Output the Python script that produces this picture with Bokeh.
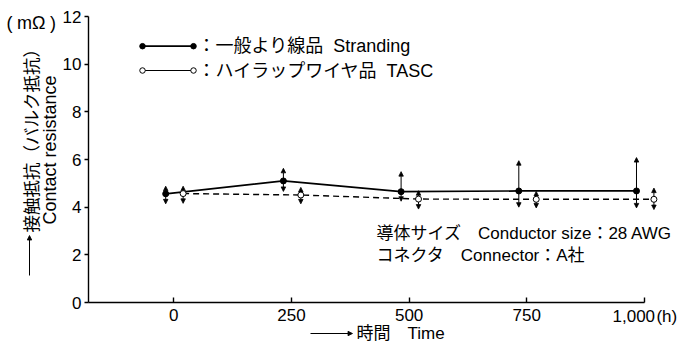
import math
from bokeh.plotting import figure
from bokeh.models import Range1d, FixedTicker, ColumnDataSource, Label, Arrow, NormalHead
from bokeh.transform import dodge
from bokeh.embed import file_html
from bokeh.resources import INLINE

# ---- data ----
time_h = [0, 250, 500, 750, 1000]
strand_mean = [4.56, 5.10, 4.65, 4.68, 4.68]
strand_max = [4.88, 5.63, 5.49, 5.95, 6.08]
strand_min = [4.14, 4.66, 4.25, 4.00, 3.97]
tasc_mean = [4.57, 4.51, 4.34, 4.33, 4.33]
tasc_max = [4.88, 4.83, 4.69, 4.66, 4.80]
tasc_min = [4.16, 4.14, 3.92, 3.97, 3.90]
y_ticks = [0, 2, 4, 6, 8, 10, 12]
x_ticks = [0, 250, 500, 750, 1000]
x_tick_labels = ["0", "250", "500", "750", ""]
last_x_label = "1,000\u200a(h)"
y_unit_label = "(\u2005mΩ\u2005)"
y_label_ja = "接触抵抗（バルク抵抗）"
y_label_en = "Contact resistance"
x_label = "時間　Time"
legend_strand = "：一般より線品\u00a0\u00a0Stranding"
legend_tasc = "：ハイラップワイヤ品\u00a0\u00a0TASC"
note1 = "導体サイズ　Conductor size：28 AWG"
note2 = "コネクタ　Connector：A社"

# axis extent
AX_X0, AX_X1 = -181, 1000
AX_Y0, AX_Y1 = 0, 12
FONT = "Liberation Sans, Noto Sans CJK JP"

W, H = 678, 344
# axis box inside the canvas (pixels): left, right, top, bottom
PL, PR, PT, PB = 88, 644, 16, 302
sx = (AX_X1 - AX_X0) / (PR - PL)
sy = (AX_Y1 - AX_Y0) / (PB - PT)
x_range = Range1d(AX_X0 - PL * sx, AX_X1 + (W - PR) * sx)
y_range = Range1d(AX_Y0 - (H - PB) * sy, AX_Y1 + PT * sy)

# helpers: canvas pixel position -> data coordinates (layout only)
def cx(px):
    return AX_X0 + (px - PL) * sx

def cy(py):
    return AX_Y0 + (PB - py) * sy

p = figure(width=W, height=H, output_backend="svg", toolbar_location=None,
           x_range=x_range, y_range=y_range,
           min_border_left=0, min_border_right=0, min_border_top=0, min_border_bottom=0)
p.outline_line_color = None
p.grid.visible = False

# axes (drawn at fixed positions inside the canvas)
p.xaxis.fixed_location = AX_Y0
p.xaxis.bounds = (AX_X0, AX_X1)
p.yaxis.fixed_location = AX_X0
p.yaxis.bounds = (AX_Y0, AX_Y1)
p.xaxis.ticker = FixedTicker(ticks=x_ticks)
p.xaxis.major_label_overrides = {t: l for t, l in zip(x_ticks, x_tick_labels)}
p.xaxis.major_tick_in = 5
p.xaxis.major_tick_out = 0
p.xaxis.major_label_standoff = 6
p.yaxis.ticker = FixedTicker(ticks=y_ticks)
p.yaxis.major_tick_in = 0
p.yaxis.major_tick_out = 4
p.yaxis.major_label_standoff = 3
for ax in (p.xaxis, p.yaxis):
    ax.minor_tick_line_color = None
    ax.axis_line_color = "black"
    ax.axis_line_width = 1.4
    ax.major_tick_line_color = "black"
    ax.major_tick_line_width = 1.4
    ax.major_label_text_font = FONT
    ax.major_label_text_font_size = "17px"
    ax.major_label_text_color = "black"

src = ColumnDataSource(dict(x=time_h, s=strand_mean, s_hi=strand_max, s_lo=strand_min,
                            t=tasc_mean, t_hi=tasc_max, t_lo=tasc_min))
xs = dodge("x", -17, range=p.x_range)
xt = dodge("x", 20, range=p.x_range)

def head():
    return NormalHead(size=4.5, fill_color="black", line_color="black", line_width=0.8)

# min-max arrows
for xx, lo, hi in ((xs, "s_lo", "s_hi"), (xt, "t_lo", "t_hi")):
    p.add_layout(Arrow(x_start=xx, y_start=lo, x_end=xx, y_end=hi, source=src,
                       line_color="black", line_width=1, start=head(), end=head(),
                       level="underlay"))

p.line(x=xt, y="t", source=src, line_color="black", line_width=1.4, line_dash="6 4")
p.line(x=xs, y="s", source=src, line_color="black", line_width=1.7)
p.scatter(x=xt, y="t", source=src, size=6, fill_color="white", line_color="black", line_width=1)
p.scatter(x=xs, y="s", source=src, size=6, fill_color="black", line_color="black")

# legend keys (drawn by hand like the reference)
lx = [cx(142), cx(193)]
p.line(lx, [cy(45.7)] * 2, line_color="black", line_width=1.7)
p.scatter(lx, [cy(45.7)] * 2, size=5.5, fill_color="black", line_color="black")
p.line(lx, [cy(70)] * 2, line_color="black", line_width=1.2)
p.scatter(lx, [cy(70)] * 2, size=5.5, fill_color="white", line_color="black", line_width=1)

def lab(x, y, text, size="17px", align="left", angle=0.0):
    p.add_layout(Label(x=x, y=y, text=text, text_font=FONT, text_font_size=size,
                       text_color="black", text_align=align, text_baseline="middle", angle=angle))

lab(cx(197), cy(45.7), legend_strand, size="18px")
lab(cx(197), cy(70), legend_tasc, size="18px")
lab(cx(376), cy(233), note1, size="17px")
lab(cx(376), cy(255), note2, size="17px")
lab(cx(6), cy(22), y_unit_label, size="18px")
lab(cx(612), cy(316), last_x_label)
lab(cx(31), cy(232), y_label_ja, size="17.5px", angle=math.pi / 2)
lab(cx(49.5), cy(224), y_label_en, size="18px", angle=math.pi / 2)
lab(cx(356), cy(333), x_label)

# axis-title arrows
p.add_layout(Arrow(x_start=cx(29), y_start=cy(275), x_end=cx(29), y_end=cy(235),
                   line_color="black", line_width=1, end=head()))
p.add_layout(Arrow(x_start=cx(310), y_start=cy(333), x_end=cx(352), y_end=cy(333),
                   line_color="black", line_width=1, end=head()))

open("out.html", "w").write(file_html(p, INLINE))
